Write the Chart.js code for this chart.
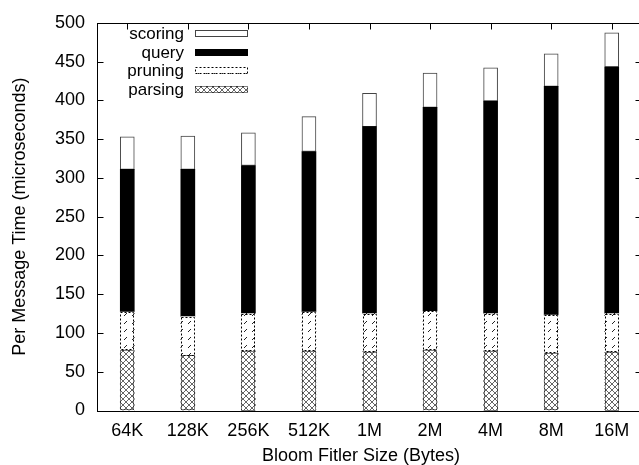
<!DOCTYPE html>
<html>
<head>
<meta charset="utf-8">
<script src="https://cdn.jsdelivr.net/npm/chart.js@4"></script>
<style>
  html, body { margin: 0; padding: 0; overflow: hidden; background: #fff; }
  #wrap { width: 650px; height: 465px; position: relative; }
</style>
</head>
<body>
<div id="wrap"><canvas id="c"></canvas></div>
<script>
// Bloom filter size vs. per-message processing time, split by stage
const categories = ['64K', '128K', '256K', '512K', '1M', '2M', '4M', '8M', '16M'];
const parsing = [78, 71, 77, 77, 76, 78, 77, 74, 76];
const pruning = [49, 50, 48, 50, 49, 50, 48, 49, 49];
const query   = [184, 190, 191, 207, 241, 263, 274, 295, 318];
const scoring = [42, 43, 42, 45, 43, 44, 43, 42, 44];
const yMin = 0, yMax = 500, yStep = 50;
const xTitle = 'Bloom Fitler Size (Bytes)';
const yTitle = 'Per Message Time (microseconds)';

const FONT = "'Liberation Sans', Arial, Helvetica, sans-serif";
const FS = 18;
const canvas = document.getElementById('c');
const ctx0 = canvas.getContext('2d');

// small bitmap tiles used as fill patterns
function makeTile(w, h, pts, color) {
  const c = document.createElement('canvas');
  c.width = w; c.height = h;
  const g = c.getContext('2d');
  g.fillStyle = '#fff';
  g.fillRect(0, 0, w, h);
  g.fillStyle = color;
  pts.forEach(([x, y]) => g.fillRect(x, y, 1, 1));
  return ctx0.createPattern(c, 'repeat');
}
const crossPattern = makeTile(6, 6, [
  [0,0],[1,1],[2,2],[3,3],[4,4],[5,5],
  [5,0],[4,1],[3,2],[2,3],[1,4],[0,5]
], '#666');
const slashPattern = makeTile(8, 8, [[6,1],[5,2],[4,3]], '#222');

const datasets = [
  { label: 'parsing', data: parsing, backgroundColor: crossPattern, borderWidth: 0, dash: [1, 1] },
  { label: 'pruning', data: pruning, backgroundColor: slashPattern, borderWidth: 0, dash: [2, 2] },
  { label: 'query',   data: query,   backgroundColor: '#000', borderWidth: 0 },
  { label: 'scoring', data: scoring, backgroundColor: '#fff', borderColor: '#444', borderWidth: 1, borderSkipped: false }
].map(d => Object.assign({ barThickness: 14, stack: 's' }, d));

// dashed / dotted outlines for the patterned segments
const outlinePlugin = {
  id: 'outline',
  afterDatasetsDraw(chart) {
    const ctx = chart.ctx;
    chart.data.datasets.forEach((ds, i) => {
      if (!ds.dash) return;
      const meta = chart.getDatasetMeta(i);
      ctx.save();
      ctx.strokeStyle = '#000';
      ctx.lineWidth = 1;
      ctx.setLineDash(ds.dash);
      meta.data.forEach(bar => {
        const p = bar.getProps(['x', 'y', 'base', 'width'], true);
        const left = Math.round(p.x - p.width / 2) + 0.5;
        const top = Math.round(Math.min(p.y, p.base)) + 0.5;
        const h = Math.round(Math.abs(p.base - p.y)) - 1;
        ctx.strokeRect(left, top, Math.round(p.width) - 1, h);
      });
      ctx.restore();
    });
  }
};

// frame around the plot with inward tick marks, the x-axis title and the key
const framePlugin = {
  id: 'frame',
  afterDraw(chart) {
    const ctx = chart.ctx;
    const a = chart.chartArea;
    const xs = chart.scales.x, ys = chart.scales.y;
    const L = Math.round(a.left) + 0.5, R = Math.round(a.right) - 0.5;
    const T = Math.round(a.top) + 0.5, B = Math.round(a.bottom) + 0.5;
    ctx.save();
    ctx.strokeStyle = '#000';
    ctx.lineWidth = 1;
    ctx.beginPath();
    ys.ticks.forEach((t, i) => {
      const y = Math.round(ys.getPixelForTick(i)) + 0.5;
      ctx.moveTo(L, y); ctx.lineTo(L + 6, y);
      ctx.moveTo(R, y); ctx.lineTo(R - 6, y);
    });
    xs.ticks.forEach((t, i) => {
      const x = Math.round(xs.getPixelForTick(i)) + 0.5;
      ctx.moveTo(x, T); ctx.lineTo(x, T + 6);
    });
    ctx.stroke();
    ctx.strokeRect(L, T, R - L, B - T);

    // x-axis title
    ctx.fillStyle = '#000';
    ctx.font = FS + 'px ' + FONT;
    ctx.textAlign = 'center';
    ctx.textBaseline = 'middle';
    ctx.fillText(xTitle, 361, 456);

    // key, top-left inside the plot
    const rows = chart.data.datasets.slice().reverse();
    const textRight = 184, boxL = 195, boxW = 53, boxH = 7;
    ctx.font = '17px ' + FONT;
    ctx.textAlign = 'right';
    rows.forEach((ds, i) => {
      const cy = 33.5 + i * 18.6;
      ctx.fillStyle = '#000';
      ctx.fillText(ds.label, textRight, cy + 1);
      const by = Math.round(cy - boxH / 2);
      ctx.fillStyle = ds.backgroundColor;
      ctx.fillRect(boxL, by, boxW, boxH);
      ctx.save();
      if (ds.dash) { ctx.setLineDash(ds.dash); ctx.strokeStyle = '#000'; }
      else { ctx.strokeStyle = ds.borderColor || '#000'; }
      if (ds.dash || ds.borderWidth) ctx.strokeRect(boxL + 0.5, by + 0.5, boxW - 1, boxH - 1);
      ctx.restore();
    });
    ctx.restore();
  }
};

new Chart(canvas, {
  type: 'bar',
  data: { labels: categories, datasets },
  options: {
    responsive: true,
    maintainAspectRatio: false,
    animation: false,
    devicePixelRatio: 1,
    layout: { padding: { top: 19, right: 8, left: 0, bottom: 0 } },
    plugins: { legend: { display: false }, tooltip: { enabled: false } },
    scales: {
      x: {
        stacked: true,
        offset: true,
        grid: { display: false, drawTicks: false },
        border: { display: false },
        ticks: { color: '#000', font: { family: FONT, size: FS }, padding: 10, maxRotation: 0, autoSkip: false },
        title: { display: false, text: xTitle },
        afterFit(s) { s.height = 54.5; }
      },
      y: {
        stacked: true,
        min: yMin,
        max: yMax,
        grid: { display: false, drawTicks: false },
        border: { display: false },
        ticks: { stepSize: yStep, color: '#000', font: { family: FONT, size: FS }, padding: 12 },
        title: { display: true, text: yTitle, color: '#000', font: { family: FONT, size: FS }, padding: { top: 9, bottom: 0 } },
        afterFit(s) { s.width = 97; }
      }
    }
  },
  plugins: [outlinePlugin, framePlugin]
});
</script>
</body>
</html>
